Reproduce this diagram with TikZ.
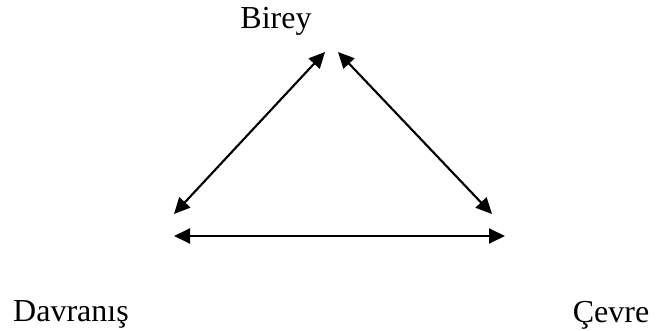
\documentclass[tikz,border=0pt]{standalone}
\usepackage{fontspec}
\setmainfont{Liberation Serif}
\usetikzlibrary{arrows.meta}

\begin{document}
\begin{tikzpicture}[x=0.375pt, y=-0.375pt, every node/.style={font=\fontsize{12}{14}\selectfont, anchor=base},
    ok/.style={{Triangle[length=6pt,width=5.6pt]}-{Triangle[length=6pt,width=5.6pt]}, line width=0.8pt}]
    \useasboundingbox (0,0) rectangle (658,331);
    % ETIKETLER
    \node (birey) at (276,29) {Birey};
    \node (davranis) at (71,322) {Davranış};
    \node (cevre) at (611,323) {Çevre};
    % UC NOKTALARI
    \coordinate (bireyL) at (325,52);
    \coordinate (bireyR) at (338,52);
    \coordinate (davranisU) at (174,214);
    \coordinate (davranisA) at (174,236);
    \coordinate (cevreU) at (492,214);
    \coordinate (cevreA) at (505,236);
    % OKLAR
    \draw[ok] (davranisU) -- (bireyL);
    \draw[ok] (bireyR) -- (cevreU);
    \draw[ok] (davranisA) -- (cevreA);
\end{tikzpicture}
\end{document}
